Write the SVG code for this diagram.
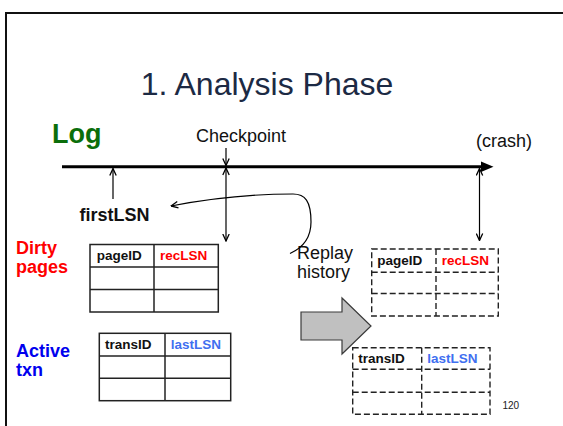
<svg xmlns="http://www.w3.org/2000/svg" width="563" height="426" viewBox="0 0 563 426">
<style>
text{font-family:"Liberation Sans",Arial,sans-serif;}
.hdr{font-size:13.5px;font-weight:bold;fill:#111;}
.lbl{font-size:18px;font-weight:bold;}
.conn{fill:none;stroke:#000;stroke-width:1.2;}
.solid{fill:none;stroke:#222;stroke-width:1.5;}
.dash{fill:none;stroke:#222;stroke-width:1.4;stroke-dasharray:6,3;}
</style>
<defs>
<marker id="ah" viewBox="0 0 8 8" refX="7.5" refY="4" markerWidth="8" markerHeight="8" markerUnits="userSpaceOnUse" orient="auto-start-reverse">
<path d="M0.5,0.8 L7.5,4 L0.5,7.2" fill="none" stroke="#000" stroke-width="1.3"/>
</marker>
</defs>
<rect x="6" y="13" width="620" height="460" fill="#fff" stroke="#111" stroke-width="2"/>
<text x="267" y="95" text-anchor="middle" font-size="32" fill="#1c2a44">1. Analysis Phase</text>

<g id="log">
<text x="52" y="143" font-size="27" font-weight="bold" fill="#0b6e0b">Log</text>
<line x1="62" y1="166.7" x2="483" y2="166.7" stroke="#000" stroke-width="3"/>
<polygon points="481,161.5 493.5,166.7 481,172" fill="#000"/>
</g>

<g id="checkpoint">
<text x="196" y="142" font-size="18" fill="#111">Checkpoint</text>
</g>
<g id="crash">
<text x="476" y="147" font-size="18" fill="#111">(crash)</text>
</g>
<g id="firstLSN">
<text x="79.5" y="220.5" class="lbl" fill="#111">firstLSN</text>
</g>
<g id="replay">
<text x="297" y="259" font-size="18" fill="#111">Replay</text>
<text x="297" y="278" font-size="18" fill="#111">history</text>
</g>

<g id="connectors">
<line class="conn" x1="226" y1="148" x2="226" y2="165.5" marker-end="url(#ah)"/>
<line class="conn" x1="226" y1="168" x2="226" y2="241" marker-start="url(#ah)" marker-end="url(#ah)"/>
<line class="conn" x1="113" y1="199" x2="113" y2="168.5" marker-end="url(#ah)"/>
<line class="conn" x1="479.5" y1="168.5" x2="479.5" y2="240.5" marker-start="url(#ah)" marker-end="url(#ah)"/>
<path class="conn" d="M290 253.5 C300 249 311 240 311 222 C311 201 305 194 293 194 C262 194 222 196 171 206" marker-end="url(#ah)"/>
</g>

<g id="dirty-label">
<text x="16" y="254" class="lbl" fill="#ff0000">Dirty</text>
<text x="16" y="273" class="lbl" fill="#ff0000">pages</text>
</g>
<g id="active-label">
<text x="16" y="356.5" class="lbl" fill="#0000ee">Active</text>
<text x="16" y="376" class="lbl" fill="#0000ee">txn</text>
</g>

<g id="dirty-table">
<rect class="solid" x="90" y="244.5" width="128.3" height="67.5"/>
<line class="solid" x1="154" y1="244.5" x2="154" y2="312"/>
<line class="solid" x1="90" y1="267" x2="218.3" y2="267"/>
<line class="solid" x1="90" y1="289.5" x2="218.3" y2="289.5"/>
<text class="hdr" x="96.7" y="260">pageID</text>
<text class="hdr" x="160" y="260" style="fill:#ff0000">recLSN</text>
</g>

<g id="active-table">
<rect class="solid" x="99.3" y="333.3" width="131.4" height="67.4"/>
<line class="solid" x1="165" y1="333.3" x2="165" y2="400.7"/>
<line class="solid" x1="99.3" y1="356" x2="230.7" y2="356"/>
<line class="solid" x1="99.3" y1="378.3" x2="230.7" y2="378.3"/>
<text class="hdr" x="105" y="349">transID</text>
<text class="hdr" x="170.7" y="349" style="fill:#3f6ff0">lastLSN</text>
</g>

<g id="big-arrow">
<polygon points="301,312 342,312 342,298 371,326 342,354 342,340 301,340" fill="#c0c0c0" stroke="#3a3a3a" stroke-width="1.2"/>
</g>

<g id="dirty-table-after">
<rect class="dash" x="371.7" y="249" width="126.6" height="67"/>
<line class="dash" x1="436" y1="249" x2="436" y2="316"/>
<line class="dash" x1="371.7" y1="272.3" x2="498.3" y2="272.3"/>
<line class="dash" x1="371.7" y1="293.5" x2="498.3" y2="293.5"/>
<text class="hdr" x="377.3" y="265">pageID</text>
<text class="hdr" x="441.7" y="265" style="fill:#ff0000">recLSN</text>
</g>

<g id="active-table-after">
<rect class="dash" x="352.7" y="347.7" width="137.3" height="66.6"/>
<line class="dash" x1="421.7" y1="347.7" x2="421.7" y2="414.3"/>
<line class="dash" x1="352.7" y1="369.3" x2="490" y2="369.3"/>
<line class="dash" x1="352.7" y1="392.3" x2="490" y2="392.3"/>
<text class="hdr" x="358.3" y="363">transID</text>
<text class="hdr" x="427.3" y="363" style="fill:#3f6ff0">lastLSN</text>
</g>

<text x="502.5" y="408.5" font-size="10" fill="#222">120</text>
</svg>
